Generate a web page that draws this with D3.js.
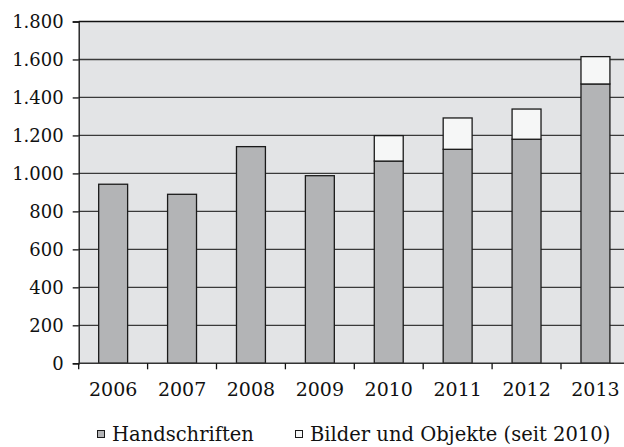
<!DOCTYPE html>
<html>
<head>
<meta charset="utf-8">
<script src="https://cdn.jsdelivr.net/npm/d3@7"></script>
<style>
  body { margin: 0; background: #fff; }
  svg { display: block; font-family: "DejaVu Serif", "Liberation Serif", serif; }
</style>
</head>
<body>
<div id="grafico"></div>
<script>
const jahre = ["2006", "2007", "2008", "2009", "2010", "2011", "2012", "2013"];
const handschriften = [943, 890, 1141, 988, 1065, 1127, 1180, 1471];
const bilder = [0, 0, 0, 0, 134, 165, 159, 144];
const yTicks = [0, 200, 400, 600, 800, 1000, 1200, 1400, 1600, 1800];
const serien = ["Handschriften", "Bilder und Objekte (seit 2010)"];

function criarGrafico(target) {
    const largura = 624;
    const altura = 447;
    const margem = { top: 21.5, left: 78.7, bottom: 83.7 };

    const svg = d3.select(target)
        .append("svg")
        .attr("width", largura)
        .attr("height", altura);

    const x = d3.scaleBand()
        .domain(jahre)
        .range([margem.left, margem.left + 8 * 68.9])
        .paddingInner(0.58)
        .paddingOuter(0.29);

    const y = d3.scaleLinear()
        .domain([0, 1800])
        .range([altura - margem.bottom, margem.top]);

    // fundo
    svg.append("rect")
        .attr("x", margem.left)
        .attr("y", margem.top)
        .attr("width", largura - margem.left)
        .attr("height", y(0) - margem.top)
        .attr("fill", "#e3e4e6");

    // grade
    svg.selectAll(".grid")
        .data(yTicks.slice(1, -1))
        .enter()
        .append("line")
        .attr("x1", margem.left)
        .attr("x2", largura)
        .attr("y1", d => y(d))
        .attr("y2", d => y(d))
        .attr("stroke", "#3a3a3a")
        .attr("stroke-width", 1.3);

    svg.append("line")
        .attr("x1", margem.left).attr("x2", largura)
        .attr("y1", margem.top).attr("y2", margem.top)
        .attr("stroke", "#111").attr("stroke-width", 1.3);

    const linhas = jahre.map((j, i) => ({ jahr: j, h: handschriften[i], b: bilder[i] }));

    svg.selectAll(".bar-h")
        .data(linhas)
        .enter()
        .append("rect")
        .attr("x", d => x(d.jahr))
        .attr("width", x.bandwidth())
        .attr("y", d => y(d.h))
        .attr("height", d => y(0) - y(d.h))
        .attr("fill", "#b3b4b6")
        .attr("stroke", "#1a1a1a")
        .attr("stroke-width", 1.3);

    svg.selectAll(".bar-b")
        .data(linhas.filter(d => d.b > 0))
        .enter()
        .append("rect")
        .attr("x", d => x(d.jahr))
        .attr("width", x.bandwidth())
        .attr("y", d => y(d.h + d.b))
        .attr("height", d => y(d.h) - y(d.h + d.b))
        .attr("fill", "#f6f7f7")
        .attr("stroke", "#1a1a1a")
        .attr("stroke-width", 1.3);

    // eixo y
    const yAxis = svg.append("g")
        .attr("transform", `translate(${margem.left},0)`)
        .call(d3.axisLeft(y).tickValues(yTicks).tickSize(6).tickPadding(9)
            .tickFormat(d => d3.format(",")(d).replace(/,/g, ".")));
    yAxis.attr("font-family", null).attr("font-size", null);
    yAxis.select(".domain").attr("stroke", "#111").attr("stroke-width", 1.3);
    yAxis.selectAll(".tick line").attr("stroke", "#111").attr("stroke-width", 1.3);
    yAxis.selectAll("text")
        .attr("fill", "#111")
        .style("font-size", "18px");

    // eixo x
    const xAxis = svg.append("g")
        .attr("transform", `translate(0,${y(0)})`)
        .call(d3.axisBottom(x).tickSize(0).tickPadding(19));
    xAxis.attr("font-family", null).attr("font-size", null);
    xAxis.select(".domain").remove();
    xAxis.selectAll("text")
        .attr("fill", "#111")
        .style("font-size", "19px");
    svg.append("line")
        .attr("x1", margem.left).attr("x2", largura)
        .attr("y1", y(0)).attr("y2", y(0))
        .attr("stroke", "#333").attr("stroke-width", 1.5);
    svg.selectAll(".xtick")
        .data(jahre)
        .enter()
        .append("line")
        .attr("x1", d => x(d) - (x.step() - x.bandwidth()) / 2)
        .attr("x2", d => x(d) - (x.step() - x.bandwidth()) / 2)
        .attr("y1", y(0))
        .attr("y2", y(0) + 6)
        .attr("stroke", "#111")
        .attr("stroke-width", 1.3);

    // legenda
    const legX = [97, 295];
    const legenda = svg.selectAll(".leg")
        .data(serien)
        .enter()
        .append("g")
        .attr("transform", (d, i) => `translate(${legX[i]},434)`);
    legenda.append("rect")
        .attr("x", 0.5).attr("y", -3.5)
        .attr("width", 7).attr("height", 7)
        .attr("fill", (d, i) => i === 0 ? "#b3b4b6" : "#f6f7f7")
        .attr("stroke", "#1a1a1a")
        .attr("stroke-width", 1);
    legenda.append("text")
        .attr("x", 15)
        .attr("y", 0)
        .attr("dy", "0.35em")
        .attr("fill", "#111")
        .style("font-size", "19.5px")
        .text(d => d);
}

criarGrafico("#grafico");
</script>
</body>
</html>
